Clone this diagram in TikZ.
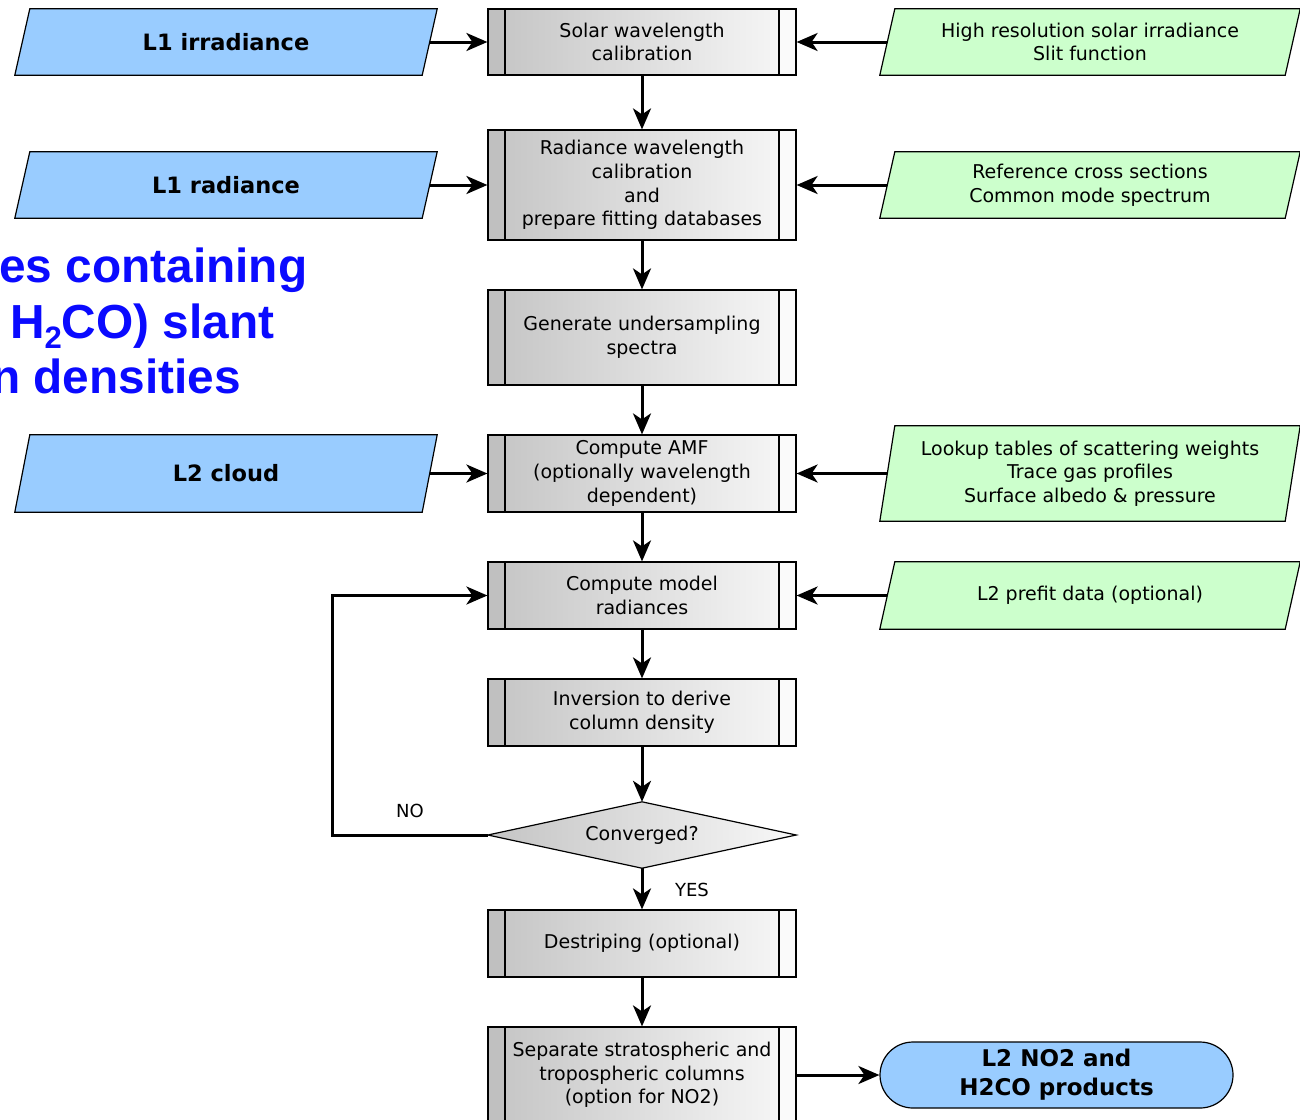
\documentclass[tikz,border=0pt]{standalone}
\usepackage{fontspec}
\setmainfont{DejaVu Sans}
\newfontfamily\headfont{Liberation Sans}
\usetikzlibrary{arrows.meta,backgrounds}

\definecolor{inblue}{HTML}{99CCFF}
\definecolor{ingreen}{HTML}{CCFFCC}
\definecolor{shadeL}{HTML}{C4C4C4}
\definecolor{shadeR}{HTML}{F8F8F8}
\definecolor{stripL}{HTML}{C0C0C0}
\definecolor{stripR}{HTML}{FAFAFA}
\definecolor{headblue}{HTML}{0A0AFF}

\tikzset{
  procbox/.style={draw, line width=1.2pt, minimum width=308pt, inner sep=0pt,
    left color=shadeL, right color=shadeR, align=center,
    font=\fontsize{19}{23.7}\selectfont,
    path picture={
      \fill[stripL] (path picture bounding box.south west) rectangle ([xshift=17pt]path picture bounding box.north west);
      \fill[stripR] ([xshift=-17pt]path picture bounding box.south east) rectangle (path picture bounding box.north east);
      \draw[line width=1.2pt] ([xshift=17pt]path picture bounding box.south west) -- ([xshift=17pt]path picture bounding box.north west);
      \draw[line width=1.2pt] ([xshift=-17pt]path picture bounding box.south east) -- ([xshift=-17pt]path picture bounding box.north east);
    }},
  inbody/.style={minimum width=407pt, inner sep=0pt, align=center},
  inblueb/.style={inbody, font=\fontsize{22.5}{28}\selectfont\bfseries},
  ingreenb/.style={inbody, minimum width=405pt, font=\fontsize{19}{23.7}\selectfont},
  terminal/.style={draw, line width=1.2pt, fill=inblue, rounded corners=33pt,
    minimum width=353pt, minimum height=66pt, inner sep=0pt, align=center,
    font=\fontsize{23}{29}\selectfont\bfseries},
  flow/.style={line width=3pt, -{Stealth[length=21pt,width=18pt,inset=6pt]}},
  lbl/.style={font=\fontsize{18}{22}\selectfont, inner sep=0pt},
  headline/.style={anchor=base west, inner sep=0pt, text=headblue,
    font=\headfont\bfseries\fontsize{47.8}{56}\selectfont},
}

\begin{document}
\begin{tikzpicture}[x=1pt,y=-1pt]
\useasboundingbox (0,0) rectangle (1300,1119);
\clip (0,0) rectangle (1300,1119);

% heading text running in from the left
\node[headline] (hA) at (-1,282) {es containing};
\node[headline] (hB) at (10,338) {H\raisebox{-10pt}{\fontsize{31}{31}\selectfont 2}CO) slant};
\node[headline] (hC) at (-9,393) {n densities};

% main processing chain
\node[procbox, minimum height=66pt] (solar) at (642,42) {Solar wavelength\\calibration};
\node[procbox, minimum height=110pt] (radcal) at (642,185) {Radiance wavelength\\calibration\\and\\prepare fitting databases};
\node[procbox, minimum height=95pt] (under) at (642,337.5) {Generate undersampling\\spectra};
\node[procbox, minimum height=77pt] (amf) at (642,473.5) {Compute AMF\\(optionally wavelength\\dependent)};
\node[procbox, minimum height=67pt] (model) at (642,595.5) {Compute model\\radiances};
\node[procbox, minimum height=67pt] (invert) at (642,712.5) {Inversion to derive\\column density};
\node[minimum width=308pt, minimum height=66pt, inner sep=0pt, font=\fontsize{19}{23.7}\selectfont] (conv) at (642,835) {Converged?};
\node[procbox, minimum height=67pt] (destripe) at (642,943.5) {Destriping (optional)};
\node[procbox, minimum height=96pt] (separate) at (642,1075) {Separate stratospheric and\\tropospheric columns\\(option for NO2)};

% level-1 / level-2 inputs
\node[inblueb, minimum height=66pt] (l1irr) at (226,42) {L1 irradiance};
\node[inblueb, minimum height=66pt] (l1rad) at (226,185) {L1 radiance};
\node[inblueb, minimum height=77pt] (l2cld) at (226,473.5) {L2 cloud};

% auxiliary data
\node[ingreenb, minimum height=66pt] (solref) at (1090,42) {High resolution solar irradiance\\Slit function};
\node[ingreenb, minimum height=66pt] (xsec) at (1090,185) {Reference cross sections\\Common mode spectrum};
\node[ingreenb, minimum height=95pt] (lut) at (1090,473.5) {Lookup tables of scattering weights\\Trace gas profiles\\Surface albedo \& pressure};
\node[ingreenb, minimum height=67pt] (prefit) at (1090,595.5) {L2 prefit data (optional)};

% output product
\node[terminal] (product) at (1056.5,1075) {L2 NO2 and\\H2CO products};

% slanted input shapes and decision diamond behind their labels
\begin{pgfonlayer}{background}
\foreach \n/\c in {l1irr/inblue, l1rad/inblue, l2cld/inblue, solref/ingreen, xsec/ingreen, lut/ingreen, prefit/ingreen}
  \draw[line width=1.2pt, fill=\c] ([xshift=7.5pt]\n.north west) -- ([xshift=7.5pt]\n.north east)
    -- ([xshift=-7.5pt]\n.south east) -- ([xshift=-7.5pt]\n.south west) -- cycle;
\draw[line width=1.2pt, left color=shadeL, right color=shadeR]
  (conv.west) -- (conv.north) -- (conv.east) -- (conv.south) -- cycle;
\end{pgfonlayer}

% vertical flow
\draw[flow] (solar) -- (radcal);
\draw[flow] (radcal) -- (under);
\draw[flow] (under) -- (amf);
\draw[flow] (amf) -- (model);
\draw[flow] (model) -- (invert);
\draw[flow] (invert) -- (conv);
\draw[flow] (conv) -- (destripe);
\draw[flow] (destripe) -- (separate);

% inputs into the chain
\draw[flow] (l1irr.east) -- (solar.west);
\draw[flow] (l1rad.east) -- (radcal.west);
\draw[flow] (l2cld.east) -- (amf.west);
\draw[flow] (solref.west) -- (solar.east);
\draw[flow] (xsec.west) -- (radcal.east);
\draw[flow] (lut.west) -- (amf.east);
\draw[flow] (prefit.west) -- (model.east);
\draw[flow] (separate.east) -- (product.west);

% iteration loop
\coordinate (loopc) at (332,835);
\draw[flow] (conv.west) -- (loopc) |- (model.west);
\node[lbl] (nolbl) at (410,811) {NO};
\node[lbl] (yeslbl) at (692,890) {YES};
\end{tikzpicture}
\end{document}
